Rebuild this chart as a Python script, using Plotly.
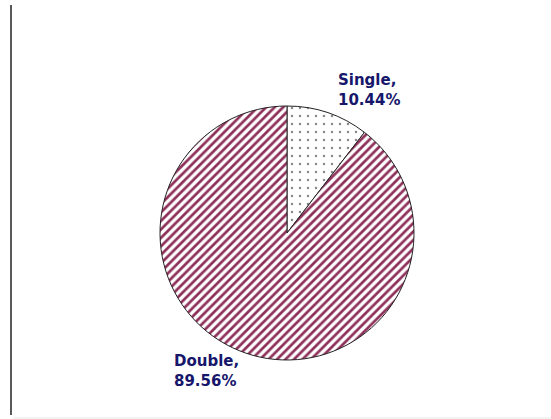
import plotly.graph_objects as go

labels = ["Single", "Double"]
values = [10.44, 89.56]
pcts = ["10.44%", "89.56%"]

W, H = 551, 419

def px(x):
    return x / W

def py(y):
    return 1 - y / H

cx, cy, r = 287, 233, 127

fig = go.Figure(go.Pie(
    labels=labels,
    values=values,
    sort=False,
    direction="clockwise",
    rotation=0,
    textinfo="none",
    showlegend=False,
    domain=dict(x=[px(cx - r), px(cx + r)], y=[py(cy + r), py(cy - r)]),
    marker=dict(
        colors=["white", "white"],
        line=dict(color="#222222", width=1),
        pattern=dict(
            shape=[".", "/"],
            fgcolor=["#8a8a8a", "#8e2f5a"],
            bgcolor=["white", "white"],
            size=[8, 6],
            solidity=[0.08, 0.45],
        ),
    ),
))

label_pos = [(336, 90), (172, 371)]
for lab, pct, (x, y) in zip(labels, pcts, label_pos):
    fig.add_annotation(
        xref="paper", yref="paper", x=px(x), y=py(y),
        xanchor="left", yanchor="middle", align="left",
        text=f"{lab},<br>{pct}", showarrow=False,
        font=dict(family="DejaVu Sans", size=15, color="#16166b", weight="bold"),
    )

fig.add_shape(type="line", xref="paper", yref="paper",
              x0=px(11), x1=px(11), y0=py(5), y1=py(415),
              line=dict(color="#222222", width=1.5))
fig.add_shape(type="line", xref="paper", yref="paper",
              x0=px(13), x1=1, y0=py(418), y1=py(418),
              line=dict(color="#e6e6e6", width=1))

fig.update_layout(
    width=W, height=H,
    margin=dict(l=0, r=0, t=0, b=0),
    paper_bgcolor="white", plot_bgcolor="white",
)

fig.write_html("out.html", config={"displayModeBar": False},
               post_script="document.body.style.margin='0';")
